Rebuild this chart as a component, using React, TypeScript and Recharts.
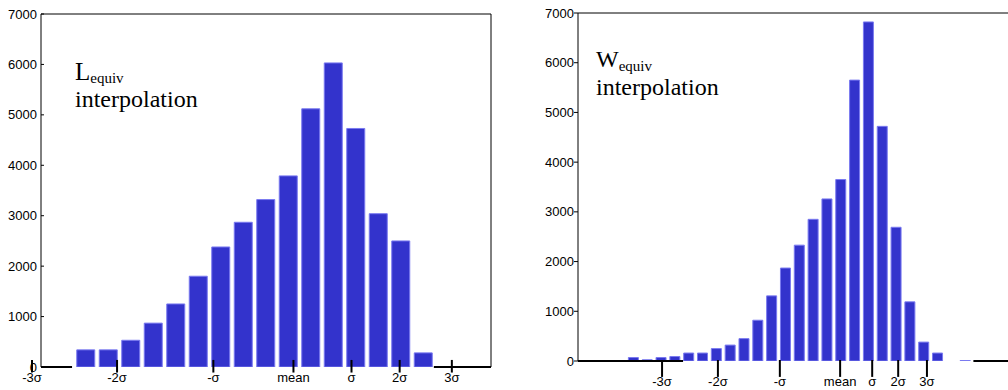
import { BarChart, Bar, XAxis, YAxis, ReferenceLine } from "recharts";

// left histogram (L_equiv)
const lBins = [1, 1.5, 2, 2.5, 3, 3.5, 4, 4.5, 5, 5.5, 6, 6.5, 7, 7.5, 8, 8.5];
const lCounts = [340, 340, 530, 870, 1250, 1800, 2380, 2870, 3320, 3790, 5120, 6030, 4730, 3040, 2500, 280];
const lSigmaPos = [-0.2, 1.69, 3.83, 5.61, 6.9, 7.97, 9.13];

// right histogram (W_equiv)
const wBins = [1, 1.25, 1.5, 1.75, 2, 2.25, 2.5, 2.75, 3, 3.25, 3.5, 3.75, 4, 4.25, 4.5, 4.75, 5, 5.25, 5.5, 5.75, 6, 6.25, 6.5, 7];
const wCounts = [70, 25, 70, 90, 160, 160, 250, 320, 450, 820, 1310, 1870, 2330, 2850, 3260, 3650, 5650, 6820, 4720, 2690, 1190, 380, 160, 10];
const wSigmaPos = [1.52, 2.53, 3.65, 4.74, 5.32, 5.79, 6.31];

const sigmaLabels = ["-3σ", "-2σ", "-σ", "mean", "σ", "2σ", "3σ"];
const yTicks = [0, 1000, 2000, 3000, 4000, 5000, 6000, 7000];
const xTicks = [1, 2, 3, 4, 5, 6, 7, 8, 9];

const lData = lBins.map((x, i) => ({ x, n: lCounts[i] }));
const wData = wBins.map((x, i) => ({ x, n: wCounts[i] }));

const tickFont = { fontSize: 13, fill: "#000", fontFamily: "Liberation Sans, Arial, sans-serif" };

interface HistProps {
  data: { x: number; n: number }[];
  width: number;
  margin: { top: number; right: number; bottom: number; left: number };
  yWidth: number;
  yTickSize: number;
  yTickMargin: number;
  barSize: number;
  sigmaPos: number[];
  sigmaTop: number;
  sigmaBottom: number;
  baseSegments: number[][];
}

function Histogram(p: HistProps) {
  return (
    <BarChart width={p.width} height={390} data={p.data} margin={p.margin}>
      <XAxis dataKey="x" type="number" domain={[0, 10]} hide allowDataOverflow />
      {/* frame: top edge with inward ticks */}
      <XAxis
        xAxisId="top"
        dataKey="x"
        orientation="top"
        type="number"
        domain={[0, 10]}
        ticks={xTicks}
        height={1}
        mirror
        tick={false}
        tickSize={4}
        stroke="#000"
        allowDataOverflow
      />
      <YAxis
        domain={[0, 7000]}
        ticks={yTicks}
        width={p.yWidth}
        tick={tickFont}
        tickSize={p.yTickSize}
        tickMargin={p.yTickMargin}
        stroke="#000"
        allowDataOverflow
      />
      {/* frame: right edge with inward ticks */}
      <YAxis
        yAxisId="right"
        orientation="right"
        domain={[0, 7000]}
        ticks={[1000, 2000, 3000, 4000, 5000, 6000]}
        width={1}
        mirror
        tick={false}
        tickSize={4}
        stroke="#000"
        allowDataOverflow
      />
      <Bar
        dataKey="n"
        fill="#3333cc"
        stroke="#7a7af0"
        strokeWidth={1}
        barSize={p.barSize}
        isAnimationActive={false}
      />
      <Bar
        dataKey="n"
        xAxisId="top"
        yAxisId="right"
        fill="none"
        stroke="none"
        barSize={1}
        isAnimationActive={false}
      />
      {p.baseSegments.map((s, i) => (
        <ReferenceLine
          key={"b" + i}
          segment={[{ x: s[0], y: 0 }, { x: s[1], y: 0 }]}
          stroke="#000"
          strokeWidth={2}
          ifOverflow="visible"
        />
      ))}
      {p.sigmaPos.map((x, i) => (
        <ReferenceLine
          key={"s" + i}
          segment={[{ x, y: p.sigmaTop }, { x, y: p.sigmaBottom }]}
          stroke="#000"
          strokeWidth={2}
          ifOverflow="visible"
          label={{ value: sigmaLabels[i], position: "bottom", offset: 0, ...tickFont }}
        />
      ))}
    </BarChart>
  );
}

const serif = "Liberation Serif, Times New Roman, serif";

export default function App() {
  return (
    <div style={{ position: "absolute", left: 0, top: 0, width: 1008, height: 390, overflow: "hidden", background: "#fff" }}>
      <div style={{ position: "absolute", left: 0, top: 0 }}>
        <Histogram
          data={lData}
          width={500}
          margin={{ top: 14, right: 9, bottom: 23, left: 0 }}
          yWidth={41}
          yTickSize={-3}
          yTickMargin={7}
          barSize={18}
          sigmaPos={lSigmaPos}
          sigmaTop={140}
          sigmaBottom={-110}
          baseSegments={[[0, 0.69], [8.73, 10]]}
        />
      </div>
      <div style={{ position: "absolute", left: 500, top: 0 }}>
        <Histogram
          data={wData}
          width={640}
          margin={{ top: 13, right: 9, bottom: 29, left: 0 }}
          yWidth={78}
          yTickSize={4}
          yTickMargin={0}
          barSize={10}
          sigmaPos={wSigmaPos}
          sigmaTop={20}
          sigmaBottom={-320}
          baseSegments={[[0, 1.9], [7.15, 10]]}
        />
      </div>
      <svg width={1008} height={390} style={{ position: "absolute", left: 0, top: 0, pointerEvents: "none" }}>
        <text x={75} y={80} fontFamily={serif} fontSize={25} fill="#000">
          L<tspan fontSize={15} dy={3}>equiv</tspan>
        </text>
        <text x={75} y={107} fontFamily={serif} fontSize={24} fill="#000">interpolation</text>
        <text x={596} y={67} fontFamily={serif} fontSize={24} fill="#000">
          W<tspan fontSize={15} dy={4}>equiv</tspan>
        </text>
        <text x={596} y={95} fontFamily={serif} fontSize={24} fill="#000">interpolation</text>
      </svg>
    </div>
  );
}
